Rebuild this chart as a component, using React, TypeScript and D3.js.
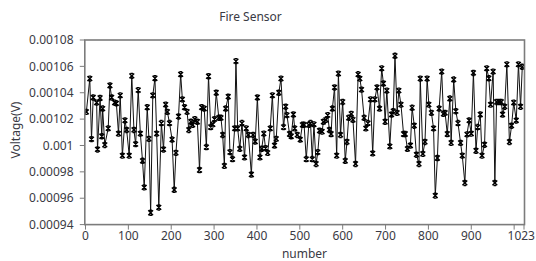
import React from "react";
import * as d3 from "d3";

const title = "Fire Sensor";
const xLabel = "number";
const yLabel = "Voltage(V)";
const xTicks = [0, 100, 200, 300, 400, 500, 600, 700, 800, 900, 1000, 1023];
const xTickLabels = ["0", "100", "200", "300", "400", "500", "600", "700", "800", "900", "", "1023"];
const yTicks = [0.00094, 0.00096, 0.00098, 0.001, 0.00102, 0.00104, 0.00106, 0.00108];
const yTickLabels = ["0.00094", "0.00096", "0.00098", "0.001", "0.00102", "0.00104", "0.00106", "0.00108"];

const sampleIndex = [
  2, 10, 14, 18, 26, 28, 34, 38, 40, 45, 53, 57, 61, 68, 72, 77, 81, 86, 92, 96,
  102, 108, 113, 117, 123, 128, 133, 137, 144, 148, 152, 157, 162, 166, 171, 177, 182, 187, 191, 196,
  202, 207, 211, 217, 222, 226, 231, 237, 241, 246, 250, 255, 261, 266, 271, 277, 282, 287, 292, 297,
  301, 305, 311, 316, 320, 324, 327, 333, 337, 343, 348, 351, 355, 360, 365, 371, 375, 380, 387, 391,
  396, 401, 407, 411, 416, 420, 425, 431, 436, 441, 445, 451, 456, 462, 467, 470, 476, 480, 485, 488,
  494, 501, 506, 510, 515, 521, 525, 529, 533, 538, 542, 546, 552, 555, 561, 565, 569, 573, 576, 581,
  586, 590, 595, 600, 606, 610, 614, 620, 624, 630, 636, 640, 644, 650, 654, 659, 665, 670, 675, 680,
  686, 691, 695, 699, 703, 710, 714, 718, 722, 727, 731, 736, 742, 746, 751, 758, 762, 767, 772, 778,
  781, 787, 792, 797, 801, 807, 812, 816, 821, 825, 831, 835, 839, 844, 850, 853, 859, 864, 869, 875,
  879, 885, 890, 895, 900, 905, 911, 915, 921, 925, 931, 936, 941, 945, 951, 955, 959, 965, 970, 973,
  978, 983, 989, 994, 999, 1005, 1010, 1015, 1019,
];

// voltage in units of 1e-5 V
const voltageE5 = [
  102.55, 105.07, 100.48, 103.64, 103.25, 99.7, 103.6, 100.7, 102.8, 100.04, 101.3, 104.55, 103.64, 103.25, 103.2, 100.9, 103.8, 99.23, 101.9, 101.18,
  99.23, 105.28, 101.18, 100.1, 104.2, 100.9, 98.84, 96.82, 102.9, 100.5, 94.9, 103.8, 105.1, 100.9, 95.3, 101.7, 99.7, 103.1, 102.55, 101.7,
  100.45, 96.64, 99.44, 102.2, 105.4, 103.5, 102.9, 102.55, 101.18, 101.8, 101.57, 102.0, 101.8, 98.14, 102.9, 102.8, 99.88, 105.25, 101.4, 101.6,
  102.0, 104.0, 102.1, 102.1, 100.8, 98.45, 102.8, 103.7, 99.5, 98.97, 101.3, 106.4, 101.3, 99.75, 101.7, 99.1, 101.3, 100.8, 97.8, 100.8,
  100.3, 103.64, 99.1, 99.75, 100.9, 99.8, 99.44, 101.3, 103.8, 100.0, 100.5, 104.0, 105.07, 101.4, 102.94, 102.3, 100.87, 100.7, 102.35, 101.3,
  100.8, 100.45, 101.57, 101.57, 98.97, 101.57, 101.7, 98.97, 101.6, 98.6, 99.5, 101.12, 101.05, 101.8, 101.95, 102.3, 101.18, 100.87, 102.8, 104.4,
  99.23, 105.45, 100.8, 103.3, 98.84, 100.27, 102.1, 102.4, 101.95, 98.6, 105.4, 105.07, 104.24, 102.1, 101.3, 101.7, 103.5, 99.4, 103.5, 104.4,
  102.8, 105.85, 104.7, 101.8, 104.16, 99.93, 102.35, 102.6, 106.8, 102.47, 104.16, 103.1, 100.87, 100.87, 99.75, 100.0, 102.86, 101.5, 99.3, 98.6,
  105.07, 99.36, 100.27, 105.07, 103.1, 102.47, 101.3, 96.2, 99.05, 102.8, 105.6, 102.4, 102.47, 100.87, 103.56, 100.2, 105.0, 102.6, 101.7, 100.2,
  99.23, 97.16, 100.84, 101.9, 100.9, 105.5, 99.6, 101.4, 102.35, 99.23, 100.06, 105.85, 105.1, 103.1, 105.6, 97.16, 103.3, 103.3, 103.3, 102.35,
  102.94, 106.15, 100.27, 101.5, 103.25, 101.9, 106.15, 102.94, 105.97,
];

const W = 536;
const H = 261;
const plot = { left: 84.8, right: 524.5, top: 40, bottom: 224.6 };
const font = "'Noto Sans', 'DejaVu Sans', sans-serif";
const textColor = "#3a3a44";
const frameColor = "#7c7c7c";

export default function App() {
  const x = d3.scaleLinear().domain([0, 1023]).range([85.5, 524]);
  const y = d3.scaleLinear().domain([0.00094, 0.00108]).range([plot.bottom, plot.top]);
  const points: [number, number][] = sampleIndex.map((xi, i) => [xi, voltageE5[i] * 1e-5]);
  const line = d3
    .line<[number, number]>()
    .x((d) => x(d[0]))
    .y((d) => y(d[1]));
  const path = line(points) || "";
  const marker = "M-2.4,-2.4L2.4,2.4M2.4,-2.4L-2.4,2.4M-1.3,-2.5H1.3M-1.3,2.5H1.3";

  return (
    <svg
      width={W}
      height={H}
      style={{ position: "absolute", left: 0, top: 0, background: "#fff" }}
    >
      <rect x={0} y={0} width={W} height={H} fill="#fff" />
      <text x={250.5} y={21} textAnchor="middle" fontFamily={font} fontSize={12} fill={textColor}>
        {title}
      </text>
      <defs>
        <clipPath id="plotclip">
          <rect x={plot.left} y={plot.top} width={plot.right - plot.left} height={plot.bottom - plot.top} />
        </clipPath>
      </defs>
      <g clipPath="url(#plotclip)">
        <path d={path} fill="none" stroke="#111" strokeWidth={1} />
        {points.map((d, i) => (
          <path
            key={i}
            d={marker}
            transform={`translate(${x(d[0])},${y(d[1])})`}
            fill="none"
            stroke="#000"
            strokeWidth={1.4}
          />
        ))}
      </g>
      <rect
        x={plot.left}
        y={plot.top}
        width={plot.right - plot.left}
        height={plot.bottom - plot.top}
        fill="none"
        stroke={frameColor}
        strokeWidth={1.6}
      />
      {yTicks.map((t, i) => (
        <g key={"y" + i}>
          <line x1={plot.left - 5} x2={plot.left} y1={y(t)} y2={y(t)} stroke={frameColor} strokeWidth={1} />
          <text
            x={73.5}
            y={y(t)}
            dy="0.35em"
            textAnchor="end"
            fontFamily={font}
            fontSize={12}
            fill={textColor}
          >
            {yTickLabels[i]}
          </text>
        </g>
      ))}
      {xTicks.map((t, i) => (
        <g key={"x" + i}>
          <line x1={x(t)} x2={x(t)} y1={plot.bottom} y2={plot.bottom + 5} stroke={frameColor} strokeWidth={1} />
          {xTickLabels[i] ? (
            <text
              x={t === 1023 ? 535 : x(t)}
              y={240}
              textAnchor={t === 1023 ? "end" : "middle"}
              fontFamily={font}
              fontSize={12}
              fill={textColor}
            >
              {xTickLabels[i]}
            </text>
          ) : null}
        </g>
      ))}
      <text x={304.5} y={258} textAnchor="middle" fontFamily={font} fontSize={12} fill={textColor}>
        {xLabel}
      </text>
      <text
        transform={`translate(19.5,130) rotate(-90)`}
        textAnchor="middle"
        fontFamily={font}
        fontSize={12}
        fill={textColor}
      >
        {yLabel}
      </text>
    </svg>
  );
}
